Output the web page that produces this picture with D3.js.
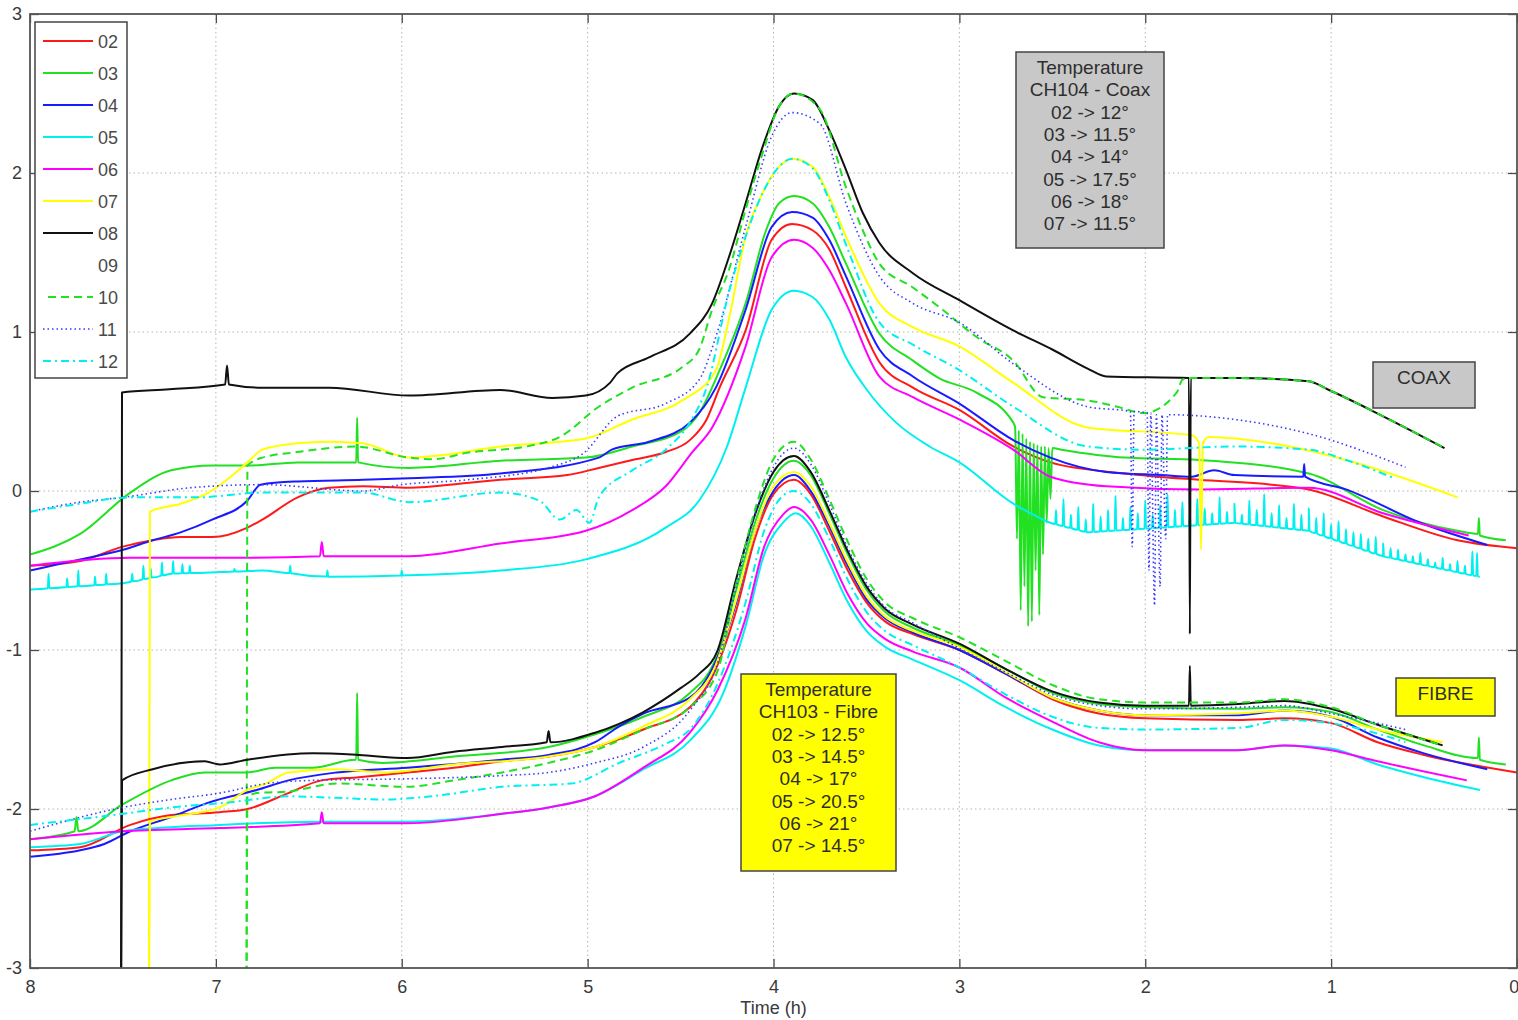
<!DOCTYPE html>
<html>
<head>
<meta charset="utf-8">
<script src="https://cdn.jsdelivr.net/npm/d3@7"></script>
<style>
  html, body { margin: 0; padding: 0; background: #fff; }
  svg { display: block; font-family: "Liberation Sans", Arial, sans-serif; }
</style>
</head>
<body>
<svg id="chart" width="1518" height="1020"></svg>
<script>
// ---------------- DATA ----------------
const timeTicks = [8, 7, 6, 5, 4, 3, 2, 1, 0];
const valueTicks = [3, 2, 1, 0, -1, -2, -3];
const seriesNames = ["02", "03", "04", "05", "06", "07", "08", "09", "10", "11", "12"];
const seriesColors = ["#ff1a1a", "#22e022", "#1a1aff", "#00f0f0", "#ff00ff", "#ffff00", "#111111", "#ffffff", "#22e022", "#3a3aff", "#00f0f0"];
const seriesDash = ["", "", "", "", "", "", "", "", "8,5", "1.5,3", "8,4,2,4"];
const coaxNote = ["Temperature", "CH104 - Coax", "02 -> 12°", "03 -> 11.5°", "04 -> 14°", "05 -> 17.5°", "06 -> 18°", "07 -> 11.5°"];
const fibreNote = ["Temperature", "CH103 - Fibre", "02 -> 12.5°", "03 -> 14.5°", "04 -> 17°", "05 -> 20.5°", "06 -> 21°", "07 -> 14.5°"];
const groupLabels = ["COAX", "FIBRE"];

// ---- CH104 Coax series: [time (h), value] ----
const coax02 = [[8,-0.47],[7.73,-0.44],[7.5,-0.35],[7.34,-0.31],[7.19,-0.29],[7.02,-0.29],[6.83,-0.23],[6.75,-0.18],[6.56,-0.04],[6.39,0.02],[6.21,0.03],[5.96,0.02],[5.65,0.05],[5.47,0.07],[5.11,0.10],[4.94,0.145],[4.76,0.195],[4.58,0.245],[4.45,0.32],[4.36,0.45],[4.29,0.65],[4.15,1.01],[4.01,1.58],[3.90,1.68],[3.79,1.64],[3.70,1.52],[3.61,1.28],[3.43,0.81],[3.25,0.65],[3.0,0.51],[2.71,0.28],[2.51,0.18],[2.11,0.11],[1.71,0.07],[1.32,0.04],[1.12,0.01],[0.72,-0.16],[0.32,-0.31],[0,-0.36]];
const coax03 = [[8,-0.40],[7.73,-0.27],[7.46,-0.01],[7.24,0.13],[7.02,0.16],[6.83,0.16],[6.56,0.18],[6.25,0.18],[6.245,0.18],[6.24,0.46],[6.235,0.18],[5.96,0.145],[5.47,0.19],[5.01,0.21],[4.76,0.28],[4.49,0.38],[4.40,0.49],[4.29,0.76],[4.15,1.18],[4.04,1.64],[3.97,1.81],[3.89,1.855],[3.79,1.81],[3.70,1.66],[3.61,1.43],[3.43,0.99],[3.25,0.82],[3.11,0.71],[2.91,0.62],[2.71,0.43],[2.70,0.40],[2.69,-0.3],[2.68,0.38],[2.67,-0.75],[2.66,0.36],[2.65,-0.6],[2.64,0.33],[2.63,-0.85],[2.62,0.31],[2.61,-0.82],[2.60,0.30],[2.59,-0.5],[2.58,0.29],[2.57,-0.78],[2.56,0.28],[2.55,-0.4],[2.54,0.28],[2.53,-0.2],[2.52,0.27],[2.51,-0.05],[2.50,0.27],[2.45,0.26],[2.11,0.21],[1.71,0.195],[1.12,0.11],[0.72,-0.12],[0.32,-0.25],[0.21,-0.27],[0.205,-0.17],[0.20,-0.28],[0.06,-0.31]];
const coax04 = [[8,-0.50],[7.73,-0.43],[7.5,-0.37],[7.34,-0.31],[7.19,-0.26],[7.02,-0.18],[6.83,-0.06],[6.76,0.04],[6.56,0.06],[6.21,0.07],[5.96,0.08],[5.47,0.11],[4.94,0.21],[4.87,0.26],[4.67,0.31],[4.45,0.43],[4.31,0.65],[4.15,1.14],[4.01,1.66],[3.90,1.755],[3.79,1.72],[3.70,1.58],[3.61,1.35],[3.43,0.89],[3.25,0.72],[3.0,0.55],[2.71,0.32],[2.51,0.21],[2.21,0.12],[1.91,0.10],[1.75,0.09],[1.63,0.13],[1.52,0.10],[1.15,0.09],[1.145,0.17],[1.14,0.09],[0.92,0.01],[0.52,-0.20],[0.16,-0.34]];
const coax05 = [[8,-0.62],[7.5,-0.58],[7.24,-0.52],[6.98,-0.51],[6.75,-0.50],[6.39,-0.54],[5.96,-0.53],[5.47,-0.50],[5.01,-0.43],[4.58,-0.23],[4.40,-0.06],[4.25,0.28],[4.15,0.65],[4.01,1.14],[3.89,1.26],[3.79,1.22],[3.70,1.08],[3.61,0.84],[3.50,0.64],[3.34,0.43],[3.16,0.28],[3.0,0.18],[2.71,-0.08],[2.6,-0.15],[2.51,-0.20],[2.31,-0.26],[1.91,-0.23],[1.52,-0.20],[1.12,-0.25],[0.72,-0.41],[0.20,-0.54]];
// noise spikes on series 05 (coax): [time, spike tip value]
const coax05Spikes = [[7.9,-0.52],[7.8,-0.55],[7.74,-0.50],[7.65,-0.54],[7.59,-0.52],[7.45,-0.52],[7.39,-0.47],[7.35,-0.49],[7.29,-0.45],[7.23,-0.44],[7.18,-0.46],[7.14,-0.47],[6.9,-0.49],[6.6,-0.47],[6.4,-0.50],[6.0,-0.50],
  [2.48,-0.12],[2.44,-0.05],[2.40,-0.15],[2.36,-0.10],[2.32,-0.18],[2.28,-0.08],[2.24,-0.16],[2.20,-0.12],[2.16,-0.03],[2.12,-0.17],[2.08,-0.10],[2.04,-0.14],[2.00,-0.06],[1.96,-0.15],[1.92,-0.09],[1.88,-0.02],[1.84,-0.12],[1.80,-0.07],[1.76,-0.16],[1.72,-0.05],[1.68,-0.11],[1.64,-0.14],[1.60,-0.04],[1.56,-0.13],[1.52,-0.08],[1.48,-0.15],[1.44,-0.06],[1.40,-0.12],[1.36,-0.02],[1.32,-0.14],[1.28,-0.09],[1.24,-0.17],[1.20,-0.08],[1.16,-0.15],[1.12,-0.11],[1.08,-0.17],[1.04,-0.14],[1.00,-0.21],[0.96,-0.19],[0.92,-0.24],[0.88,-0.26],[0.84,-0.27],[0.80,-0.30],[0.76,-0.29],[0.72,-0.33],[0.68,-0.36],[0.64,-0.37],[0.60,-0.40],[0.56,-0.41],[0.52,-0.39],[0.48,-0.43],[0.44,-0.45],[0.40,-0.42],[0.36,-0.46],[0.32,-0.44],[0.28,-0.47],[0.24,-0.38],[0.215,-0.39]];
const coax06 = [[8,-0.47],[7.46,-0.42],[6.92,-0.42],[6.44,-0.41],[6.43,-0.32],[6.42,-0.41],[5.96,-0.41],[5.47,-0.33],[5.01,-0.25],[4.76,-0.12],[4.58,0.03],[4.44,0.24],[4.33,0.40],[4.15,0.91],[4.01,1.47],[3.89,1.58],[3.79,1.53],[3.70,1.39],[3.61,1.18],[3.43,0.72],[3.25,0.59],[3.0,0.45],[2.71,0.26],[2.51,0.09],[2.21,0.03],[1.71,0.01],[1.12,0.02],[0.72,-0.14],[0.26,-0.28]];
const coax07 = [[7.36,-3.2],[7.355,-0.13],[7.19,-0.08],[7.04,-0.01],[6.92,0.09],[6.83,0.18],[6.75,0.26],[6.56,0.30],[6.39,0.31],[6.21,0.30],[5.96,0.21],[5.83,0.22],[5.47,0.28],[5.01,0.33],[4.76,0.45],[4.49,0.57],[4.31,0.76],[4.24,1.08],[4.15,1.60],[4.06,1.87],[3.97,2.04],[3.90,2.09],[3.79,2.04],[3.70,1.85],[3.61,1.60],[3.43,1.18],[3.25,1.03],[3.0,0.91],[2.71,0.68],[2.31,0.40],[1.75,0.35],[1.71,0.30],[1.70,-0.37],[1.69,0.30],[1.66,0.34],[1.32,0.30],[0.92,0.195],[0.32,-0.04]];
const coax08 = [[7.51,-3.2],[7.505,0.62],[7.25,0.64],[6.95,0.67],[6.94,0.79],[6.93,0.67],[6.75,0.65],[6.39,0.65],[5.96,0.60],[5.47,0.635],[5.19,0.585],[5.01,0.60],[4.88,0.68],[4.84,0.74],[4.67,0.84],[4.45,0.99],[4.33,1.18],[4.24,1.47],[4.15,1.81],[4.06,2.16],[3.97,2.42],[3.89,2.50],[3.79,2.46],[3.70,2.27],[3.61,2.02],[3.52,1.75],[3.43,1.56],[3.25,1.37],[3.0,1.20],[2.71,1.01],[2.5,0.89],[2.31,0.77],[2.21,0.72],[1.765,0.71],[1.76,-0.9],[1.755,0.71],[1.5,0.71],[1.12,0.69],[1.02,0.64],[0.72,0.47],[0.39,0.27]];
const coax09 = [];
const coax10 = [[6.835,-3.2],[6.83,0.16],[6.75,0.21],[6.56,0.245],[6.25,0.28],[5.96,0.21],[5.83,0.20],[5.65,0.24],[5.33,0.28],[5.15,0.34],[4.94,0.53],[4.76,0.65],[4.49,0.78],[4.40,0.89],[4.33,1.14],[4.24,1.39],[4.15,1.77],[4.06,2.12],[3.97,2.42],[3.89,2.50],[3.75,2.40],[3.61,1.91],[3.52,1.64],[3.43,1.43],[3.25,1.28],[3.09,1.14],[2.91,0.97],[2.71,0.82],[2.55,0.59],[2.31,0.57],[2.15,0.53],[2.01,0.49],[1.83,0.62],[1.80,0.70],[1.75,0.71],[1.5,0.71],[1.12,0.69],[1.02,0.64],[0.72,0.47],[0.39,0.27]];
const coax11 = [[8,-0.13],[7.73,-0.07],[7.5,-0.04],[7.14,0.02],[6.75,0.04],[6.21,0.0],[6.0,0.04],[5.65,0.07],[5.2,0.15],[5.02,0.24],[4.84,0.47],[4.58,0.55],[4.40,0.70],[4.31,0.97],[4.15,1.66],[4.01,2.23],[3.90,2.38],[3.75,2.31],[3.61,1.81],[3.43,1.35],[3.25,1.18],[3.0,1.06],[2.71,0.80],[2.31,0.53],[2.08,0.50],[2.07,-0.35],[2.06,0.50],[1.99,0.49],[1.98,-0.5],[1.97,0.49],[1.95,-0.72],[1.94,0.48],[1.92,-0.6],[1.91,0.48],[1.89,-0.3],[1.88,0.48],[1.52,0.45],[1.12,0.36],[0.60,0.15]];
const coax12 = [[8,-0.13],[7.73,-0.08],[7.46,-0.04],[7.1,-0.04],[6.75,-0.01],[6.21,-0.01],[5.96,-0.07],[5.47,-0.01],[5.26,-0.06],[5.15,-0.18],[5.06,-0.12],[4.99,-0.2],[4.94,-0.04],[4.76,0.13],[4.58,0.26],[4.44,0.45],[4.36,0.65],[4.24,1.25],[4.15,1.6],[4.06,1.87],[3.97,2.04],[3.90,2.09],[3.79,2.03],[3.70,1.83],[3.61,1.55],[3.43,1.06],[3.25,0.92],[3.0,0.76],[2.71,0.53],[2.31,0.28],[2.01,0.26],[1.52,0.28],[1.12,0.26],[0.92,0.195],[0.66,0.08]];

// ---- CH103 Fibre series: [time (h), value] ----
const fibre02 = [[8,-2.26],[7.73,-2.24],[7.46,-2.10],[7.25,-2.04],[6.98,-2.02],[6.83,-2.0],[6.61,-1.90],[6.43,-1.82],[6.23,-1.80],[5.97,-1.77],[5.72,-1.74],[5.46,-1.70],[5.21,-1.67],[4.96,-1.61],[4.70,-1.50],[4.45,-1.36],[4.33,-1.17],[4.2,-0.75],[4.1,-0.3],[4.0,-0.02],[3.89,0.07],[3.8,-0.02],[3.7,-0.25],[3.6,-0.5],[3.5,-0.7],[3.4,-0.82],[3.25,-0.9],[3.0,-1.0],[2.75,-1.15],[2.5,-1.31],[2.25,-1.40],[2.0,-1.43],[1.5,-1.44],[1.25,-1.43],[1.0,-1.46],[0.75,-1.58],[0.5,-1.66],[0,-1.77]];
const fibre03 = [[8,-2.19],[7.76,-2.14],[7.75,-2.05],[7.74,-2.14],[7.5,-1.97],[7.24,-1.82],[7.06,-1.77],[6.83,-1.77],[6.68,-1.74],[6.48,-1.74],[6.25,-1.69],[6.245,-1.69],[6.24,-1.27],[6.235,-1.69],[6.10,-1.71],[5.72,-1.67],[5.21,-1.61],[4.96,-1.53],[4.70,-1.42],[4.45,-1.27],[4.32,-1.08],[4.2,-0.62],[4.1,-0.2],[4.0,0.08],[3.89,0.19],[3.8,0.1],[3.7,-0.14],[3.6,-0.4],[3.5,-0.62],[3.4,-0.76],[3.25,-0.86],[3.0,-0.97],[2.75,-1.12],[2.5,-1.27],[2.25,-1.34],[2.0,-1.36],[1.5,-1.37],[1.25,-1.36],[1.0,-1.39],[0.75,-1.50],[0.5,-1.60],[0.21,-1.68],[0.205,-1.55],[0.20,-1.69],[0.06,-1.72]];
const fibre04 = [[8,-2.30],[7.73,-2.26],[7.6,-2.22],[7.46,-2.14],[7.24,-2.05],[7.04,-1.96],[6.78,-1.88],[6.61,-1.82],[6.35,-1.77],[5.97,-1.74],[5.46,-1.69],[5.21,-1.66],[4.96,-1.58],[4.83,-1.48],[4.70,-1.40],[4.45,-1.30],[4.33,-1.12],[4.2,-0.7],[4.1,-0.25],[4.0,0.0],[3.89,0.10],[3.8,0.0],[3.7,-0.22],[3.6,-0.47],[3.5,-0.68],[3.4,-0.8],[3.25,-0.89],[3.0,-1.0],[2.75,-1.15],[2.5,-1.30],[2.25,-1.38],[2.0,-1.41],[1.5,-1.41],[1.25,-1.38],[1.0,-1.42],[0.75,-1.55],[0.5,-1.65],[0.16,-1.75]];
const fibre05 = [[8,-2.24],[7.73,-2.22],[7.5,-2.14],[6.98,-2.10],[6.43,-2.08],[5.97,-2.08],[5.46,-2.03],[5.21,-1.99],[4.96,-1.92],[4.70,-1.75],[4.45,-1.57],[4.27,-1.27],[4.15,-0.85],[4.05,-0.4],[3.95,-0.2],[3.88,-0.14],[3.8,-0.22],[3.7,-0.45],[3.6,-0.7],[3.5,-0.88],[3.4,-0.98],[3.25,-1.06],[3.0,-1.19],[2.75,-1.36],[2.5,-1.50],[2.25,-1.60],[2.0,-1.63],[1.5,-1.63],[1.25,-1.60],[1.0,-1.62],[0.75,-1.72],[0.5,-1.80],[0.2,-1.88]];
const fibre06 = [[8,-2.19],[7.5,-2.14],[6.98,-2.12],[6.44,-2.09],[6.43,-2.02],[6.42,-2.09],[5.97,-2.09],[5.46,-2.03],[5.21,-1.99],[4.96,-1.92],[4.70,-1.74],[4.45,-1.52],[4.30,-1.25],[4.15,-0.8],[4.05,-0.35],[3.95,-0.15],[3.89,-0.10],[3.8,-0.18],[3.7,-0.4],[3.6,-0.65],[3.5,-0.83],[3.4,-0.93],[3.25,-1.01],[3.0,-1.11],[2.75,-1.30],[2.5,-1.45],[2.25,-1.58],[2.0,-1.63],[1.5,-1.63],[1.25,-1.60],[1.0,-1.63],[0.75,-1.70],[0.27,-1.82]];
const fibre07 = [[7.36,-3.2],[7.355,-2.08],[7.24,-2.05],[6.98,-1.99],[6.83,-1.88],[6.73,-1.84],[6.61,-1.77],[6.35,-1.75],[6.10,-1.77],[5.72,-1.72],[5.21,-1.67],[4.96,-1.61],[4.70,-1.48],[4.45,-1.31],[4.32,-1.12],[4.2,-0.68],[4.1,-0.25],[4.0,0.03],[3.89,0.12],[3.8,0.03],[3.7,-0.2],[3.6,-0.45],[3.5,-0.66],[3.4,-0.79],[3.25,-0.88],[3.0,-0.98],[2.75,-1.14],[2.5,-1.30],[2.25,-1.38],[2.0,-1.41],[1.5,-1.40],[1.25,-1.38],[1.0,-1.42],[0.75,-1.50],[0.4,-1.58]];
const fibre08 = [[7.51,-3.2],[7.505,-1.82],[7.34,-1.75],[7.06,-1.70],[6.98,-1.72],[6.83,-1.69],[6.48,-1.65],[6.23,-1.66],[5.97,-1.68],[5.72,-1.64],[5.46,-1.61],[5.22,-1.58],[5.21,-1.51],[5.20,-1.58],[4.96,-1.52],[4.70,-1.39],[4.50,-1.24],[4.40,-1.15],[4.30,-1.0],[4.2,-0.55],[4.1,-0.15],[4.0,0.12],[3.89,0.22],[3.8,0.12],[3.7,-0.12],[3.6,-0.38],[3.5,-0.6],[3.4,-0.74],[3.25,-0.84],[3.0,-0.96],[2.75,-1.12],[2.5,-1.26],[2.25,-1.33],[2.0,-1.35],[1.765,-1.35],[1.76,-1.1],[1.755,-1.35],[1.5,-1.34],[1.25,-1.32],[1.0,-1.37],[0.75,-1.47],[0.4,-1.60]];
const fibre09 = [];
const fibre10 = [[6.835,-3.2],[6.83,-1.92],[6.78,-1.90],[6.61,-1.89],[6.35,-1.84],[5.97,-1.86],[5.72,-1.82],[5.46,-1.77],[5.21,-1.71],[4.96,-1.63],[4.70,-1.50],[4.45,-1.36],[4.30,-1.13],[4.2,-0.58],[4.1,-0.12],[4.0,0.2],[3.89,0.31],[3.8,0.2],[3.7,-0.05],[3.6,-0.32],[3.5,-0.55],[3.4,-0.7],[3.25,-0.8],[3.0,-0.92],[2.75,-1.07],[2.5,-1.22],[2.25,-1.31],[2.0,-1.33],[1.5,-1.33],[1.25,-1.31],[1.0,-1.36],[0.75,-1.47],[0.4,-1.60]];
const fibre11 = [[8,-2.14],[7.5,-1.99],[7.24,-1.94],[6.98,-1.90],[6.73,-1.84],[6.48,-1.82],[5.97,-1.81],[5.46,-1.79],[5.21,-1.77],[4.96,-1.71],[4.70,-1.61],[4.45,-1.38],[4.30,-1.08],[4.2,-0.6],[4.1,-0.15],[4.0,0.15],[3.89,0.27],[3.8,0.17],[3.7,-0.08],[3.6,-0.36],[3.5,-0.58],[3.4,-0.73],[3.25,-0.83],[3.0,-0.99],[2.75,-1.14],[2.5,-1.28],[2.25,-1.35],[2.0,-1.37],[1.5,-1.36],[1.25,-1.35],[1.0,-1.40],[0.6,-1.50]];
const fibre12 = [[8,-2.10],[7.5,-2.03],[7.24,-1.99],[6.94,-1.96],[6.61,-1.92],[6.35,-1.93],[6.10,-1.94],[5.84,-1.92],[5.46,-1.86],[5.09,-1.84],[4.83,-1.71],[4.58,-1.59],[4.45,-1.50],[4.30,-1.21],[4.15,-0.7],[4.05,-0.25],[3.95,-0.03],[3.89,0.0],[3.8,-0.08],[3.7,-0.3],[3.6,-0.56],[3.5,-0.76],[3.4,-0.88],[3.25,-0.97],[3.0,-1.11],[2.75,-1.28],[2.5,-1.42],[2.25,-1.49],[2.0,-1.50],[1.5,-1.49],[1.25,-1.44],[1.0,-1.46],[0.6,-1.58]];

// ---------------- helpers ----------------
// interpolate series value at time t (series sorted by decreasing time)
function valueAt(series, t) {
  for (let i = 0; i < series.length - 1; i++) {
    const a = series[i], b = series[i + 1];
    if (t <= a[0] && t >= b[0]) {
      const f = (a[0] - t) / (a[0] - b[0]);
      return a[1] + f * (b[1] - a[1]);
    }
  }
  return series[series.length - 1][1];
}
function withSpikes(series, spikes, w) {
  const pts = series.slice();
  spikes.forEach(([t, v]) => {
    const base = valueAt(series, t);
    pts.push([t + w, valueAt(series, t + w)], [t, v], [t - w, valueAt(series, t - w)]);
  });
  pts.sort((a, b) => b[0] - a[0]);
  return pts;
}

const coaxSeries = [coax02, coax03, coax04, withSpikes(coax05, coax05Spikes, 0.004), coax06, coax07, coax08, coax09, coax10, coax11, coax12];
const fibreSeries = [fibre02, fibre03, fibre04, fibre05, fibre06, fibre07, fibre08, fibre09, fibre10, fibre11, fibre12];

// ---------------- LAYOUT ----------------
const W = 1518, H = 1020;
const M = { left: 30, right: 1, top: 14, bottom: 52 };
const x0 = M.left, x1 = W - M.right, y0 = M.top, y1 = H - M.bottom;

const svg = d3.select("#chart");
const x = d3.scaleLinear().domain([8, 0]).range([x0, x1]);
const y = d3.scaleLinear().domain([-3, 3]).range([y1, y0]);

svg.append("defs").append("clipPath").attr("id", "plotclip")
  .append("rect").attr("x", x0).attr("y", y0).attr("width", x1 - x0).attr("height", y1 - y0);

// grid
const grid = svg.append("g").attr("stroke", "#b4b4b4").attr("stroke-width", 1).attr("stroke-dasharray", "1.5,3");
grid.selectAll("line.gx").data(timeTicks.filter(t => t > 0 && t < 8)).join("line")
  .attr("x1", d => x(d)).attr("x2", d => x(d)).attr("y1", y0).attr("y2", y1);
grid.selectAll("line.gy").data(valueTicks.filter(v => v > -3 && v < 3)).join("line")
  .attr("x1", x0).attr("x2", x1).attr("y1", d => y(d)).attr("y2", d => y(d));

// series lines
const line = d3.line().x(d => x(d[0])).y(d => y(d[1])).curve(d3.curveMonotoneX);
const plot = svg.append("g").attr("clip-path", "url(#plotclip)");
function drawGroup(group, tag) {
  plot.selectAll("path." + tag).data(group).join("path")
    .attr("class", tag)
    .attr("d", d => d.length ? line(d) : null)
    .attr("fill", "none")
    .attr("stroke", (d, i) => seriesColors[i])
    .attr("stroke-width", (d, i) => i === 9 ? 1.6 : 2)
    .attr("stroke-dasharray", (d, i) => seriesDash[i] || null)
    .attr("stroke-linejoin", "round");
}
drawGroup(coaxSeries, "coax");
drawGroup(fibreSeries, "fibre");

// axes (MATLAB style: ticks inside, box)
const axisColor = "#4a4a4a";
const fontSize = 18;
const gx = svg.append("g").attr("transform", `translate(0,${y1})`)
  .call(d3.axisBottom(x).tickValues(timeTicks).tickFormat(d3.format("d")).tickSizeInner(-9).tickSizeOuter(0).tickPadding(12));
const gxTop = svg.append("g").attr("transform", `translate(0,${y0})`)
  .call(d3.axisTop(x).tickValues(timeTicks).tickFormat("").tickSizeInner(-9).tickSizeOuter(0));
const gy = svg.append("g").attr("transform", `translate(${x0},0)`)
  .call(d3.axisLeft(y).tickValues(valueTicks).tickFormat(d3.format("d")).tickSizeInner(-9).tickSizeOuter(0).tickPadding(8));
const gyR = svg.append("g").attr("transform", `translate(${x1},0)`)
  .call(d3.axisRight(y).tickValues(valueTicks).tickFormat("").tickSizeInner(-9).tickSizeOuter(0));
[gx, gxTop, gy, gyR].forEach(g => {
  g.select(".domain").remove();
  g.selectAll(".tick line").attr("stroke", axisColor).attr("stroke-width", 1.3);
  g.selectAll(".tick text").attr("fill", "#3a3a3a").style("font-size", fontSize + "px")
    .style("font-family", "'Liberation Sans', Arial, sans-serif");
});
gy.selectAll(".tick text").text(d => d < 0 ? "-" + Math.abs(d) : d);
gx.selectAll(".tick text").filter(d => d === 0).attr("text-anchor", "end").attr("dx", "0.1em");

svg.append("rect").attr("x", x0).attr("y", y0).attr("width", x1 - x0).attr("height", y1 - y0)
  .attr("fill", "none").attr("stroke", "#555").attr("stroke-width", 1.8);

svg.append("text").attr("x", (x0 + x1) / 2).attr("y", 1014).attr("text-anchor", "middle")
  .attr("fill", "#3a3a3a").style("font-size", fontSize + "px").text("Time (h)");

// legend
const leg = svg.append("g");
leg.append("rect").attr("x", 35).attr("y", 22).attr("width", 92).attr("height", 356)
  .attr("fill", "#fff").attr("stroke", "#444").attr("stroke-width", 1.5);
const items = leg.selectAll("g.item").data(seriesNames).join("g").attr("class", "item")
  .attr("transform", (d, i) => `translate(0,${41 + i * 32})`);
items.append("line").attr("x1", (d, i) => i === 8 ? 48 : 43).attr("x2", 93).attr("y1", 0).attr("y2", 0)
  .attr("stroke", (d, i) => seriesColors[i]).attr("stroke-width", (d, i) => i === 9 ? 1.6 : 2)
  .attr("stroke-dasharray", (d, i) => seriesDash[i] || null);
items.append("text").attr("x", 98).attr("y", 6.5).attr("fill", "#4a4a4a")
  .style("font-size", fontSize + "px").text(d => d);

// annotation boxes
function noteBox(lines, bx, by, bw, bh, fill, lineGap) {
  const g = svg.append("g");
  g.append("rect").attr("x", bx).attr("y", by).attr("width", bw).attr("height", bh)
    .attr("fill", fill).attr("stroke", "#444").attr("stroke-width", 1.5);
  g.selectAll("text").data(lines).join("text")
    .attr("x", bx + bw / 2).attr("y", (d, i) => by + 22 + i * lineGap)
    .attr("text-anchor", "middle").attr("fill", "#2e2e2e").style("font-size", "19px").text(d => d);
}
noteBox(coaxNote, 1016, 52, 148, 196, "#c8c8c8", 22.3);
noteBox(fibreNote, 741, 674, 155, 197, "#ffff00", 22.3);
noteBox([groupLabels[0]], 1373, 362, 102, 46, "#c8c8c8", 0);
noteBox([groupLabels[1]], 1396, 678, 99, 38, "#ffff00", 0);
</script>
</body>
</html>
